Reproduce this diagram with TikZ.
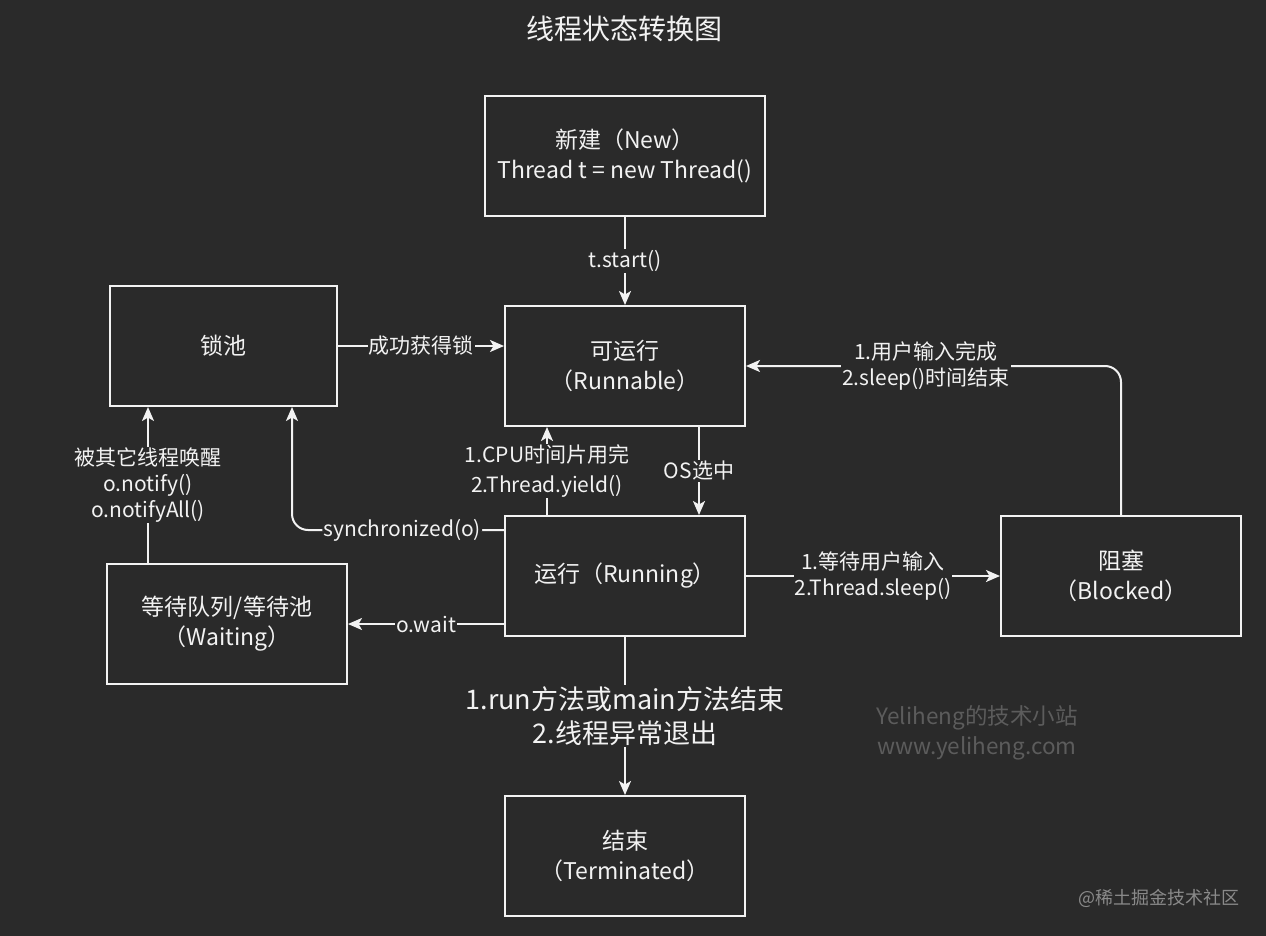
\documentclass[tikz,border=0pt]{standalone}
\usepackage{fontspec}
\setmainfont{Noto Sans CJK SC}
\usetikzlibrary{arrows.meta}
\definecolor{bg}{HTML}{2A2A2A}
\definecolor{fg}{HTML}{F2F2F2}
\definecolor{wm}{HTML}{5C5C5C}
\definecolor{jj}{HTML}{8A8A8A}
\tikzset{
  state/.style={draw=fg, line width=2pt, rectangle, minimum width=240pt, minimum height=120pt,
    align=center, text=fg, font=\fontsize{23}{30}\selectfont, inner sep=0pt},
  conn/.style={draw=fg, line width=2pt, -{Stealth[length=14pt,width=12pt,inset=3.5pt]}},
  lbl/.style={fill=bg, text=fg, align=center, inner sep=1pt, font=\fontsize{21}{26}\selectfont},
}
\begin{document}
\begin{tikzpicture}[x=1pt,y=-1pt]
\fill[bg] (0,0) rectangle (1266,936);
\useasboundingbox (0,0) rectangle (1266,936);

\node[text=fg, font=\fontsize{28}{30}\selectfont] (title) at (624,29) {线程状态转换图};

\node[state, minimum width=280pt] (new) at (625,156) {新建（New）\\Thread t = new Thread()};
\node[state, minimum width=227pt] (lock) at (223.5,346) {锁池};
\node[state] (runnable) at (625,366) {可运行\\（Runnable）};
\node[state] (running) at (625,576) {运行（Running）};
\node[state] (blocked) at (1121,576) {阻塞\\（Blocked）};
\node[state] (waiting) at (227,624) {等待队列/等待池\\（Waiting）};
\node[state] (term) at (625,856) {结束\\（Terminated）};

% New -> Runnable
\draw[conn] (new.south) -- node[lbl] {t.start()} (runnable.north);
% lock -> Runnable
\draw[conn] (lock.east) -- node[lbl] {成功获得锁} (lock.east -| runnable.west);
% Blocked -> Runnable
\draw[conn, rounded corners=16pt] (blocked.north) |- node[lbl, pos=0.76] {1.用户输入完成\\2.sleep()时间结束} (runnable.east);
% Running -> Runnable
\coordinate (ra) at ([xshift=-78pt]running.north);
\coordinate (rb) at ([xshift=-78pt]runnable.south);
\draw[conn] (ra) -- node[lbl, font=\fontsize{21}{30}\selectfont] {1.CPU时间片用完\\2.Thread.yield()} (rb);
% Runnable -> Running
\coordinate (oa) at ([xshift=74pt]runnable.south);
\coordinate (ob) at ([xshift=74pt]running.north);
\draw[conn] (oa) -- node[lbl] {OS选中} (ob);
% Running -> lock
\coordinate (sa) at ([yshift=46pt]running.west);
\coordinate (sb) at ([xshift=68.5pt]lock.south);
\draw[conn, rounded corners=16pt] (sa) -| node[lbl, pos=0.24] {synchronized(o)} (sb);
% Running -> waiting
\coordinate (wa) at ([yshift=-48pt]running.west);
\draw[conn] (wa) -- node[lbl] {o.wait} (waiting.east);
% waiting -> lock
\coordinate (na) at ([xshift=-79pt]waiting.north);
\draw[conn] (na) -- node[lbl] {被其它线程唤醒\\o.notify()\\o.notifyAll()} (na |- lock.south);
% Running -> Blocked
\draw[conn] (running.east) -- node[lbl] {1.等待用户输入\\2.Thread.sleep()} (blocked.west);
% Running -> Terminated
\draw[conn] (running.south) -- node[lbl, font=\fontsize{27}{34}\selectfont] {1.run方法或main方法结束\\2.线程异常退出} (term.north);

\node[text=wm, align=center, font=\fontsize{22.5}{30}\selectfont] (wmk) at (977,733) {Yeliheng的技术小站\\www.yeliheng.com};
\node[text=jj, font=\fontsize{18}{20}\selectfont] (jj) at (1159,898) {@稀土掘金技术社区};
\end{tikzpicture}
\end{document}
